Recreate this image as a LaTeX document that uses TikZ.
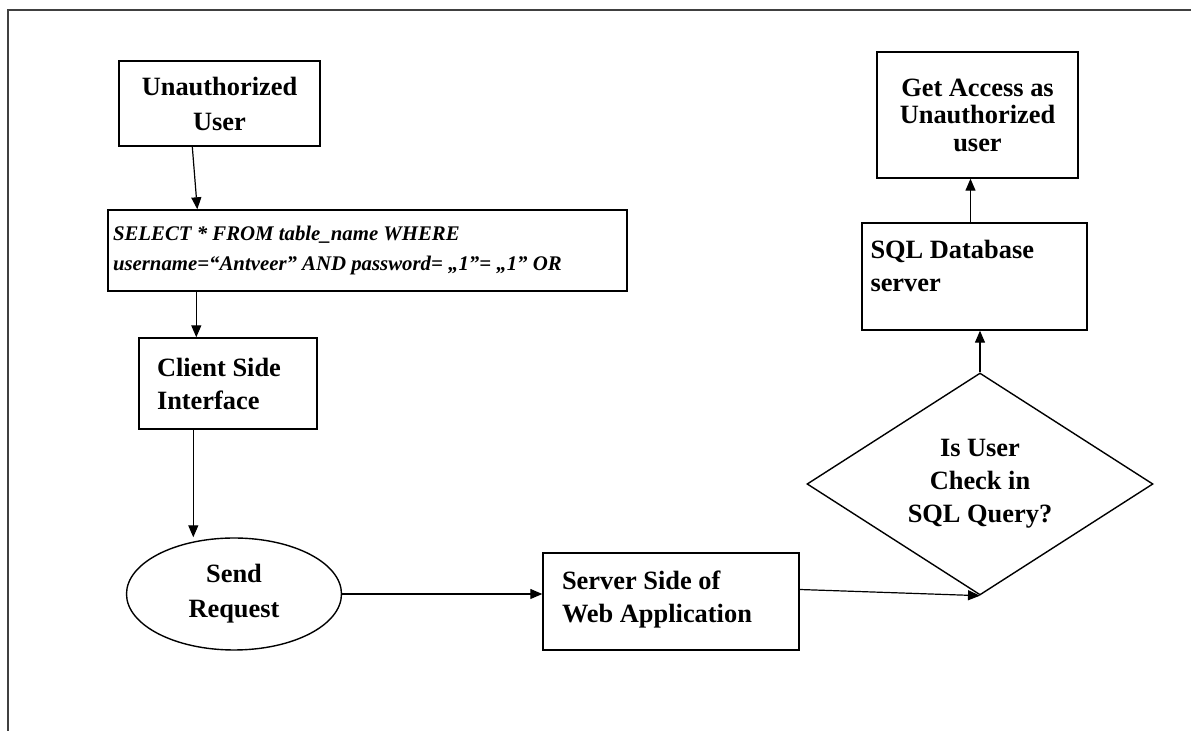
\documentclass[tikz,border=0pt]{standalone}
\usepackage{fontspec}
\setmainfont{Liberation Serif}
\usetikzlibrary{shapes.geometric,arrows.meta,calc}
\begin{document}
\begin{tikzpicture}[x=0.5pt,y=-0.5pt,
  every node/.style={font=\fontsize{13.2}{16.5}\selectfont\bfseries, line width=0.7pt, inner sep=0pt},
  box/.style={draw, rectangle},
  arr/.style={-{Triangle[length=6pt,width=5pt]}, line width=0.6pt},
  frame/.style={line width=1pt, draw=black!75}]
\useasboundingbox (0,0) rectangle (1191,731);
\draw[frame] (8,731) -- (8,10) -- (1191,10);

\node[box, minimum width=100.5pt, minimum height=42.5pt, align=center,
      font=\fontsize{13.2}{17.5}\selectfont\bfseries] (uu) at (219.5,103.5) {Unauthorized\\User};
\node[box, minimum width=259.5pt, minimum height=40.5pt, text width=254.5pt, align=flush left,
      font=\fontsize{10.4}{15}\selectfont\bfseries\itshape] (sql) at (367.5,250.5)
  {SELECT * FROM table\_name WHERE\\username=“Antveer” AND password= „1”= „1” OR};
\node[box, minimum width=89pt, minimum height=45.5pt, text width=71pt, align=flush left] (csi) at (228,383.5)
  {Client Side\\Interface};
\node[draw, ellipse, minimum width=107.5pt, minimum height=56pt, align=center,
      font=\fontsize{13.2}{17.5}\selectfont\bfseries] (sr) at (234,594) {Send\\Request};
\node[box, minimum width=128pt, minimum height=48.5pt, text width=109pt, align=flush left, text depth=21pt] (ss) at (671,601.5)
  {Server Side of\\Web Application};
\node[draw, diamond, aspect=1.56, minimum width=173pt, minimum height=111pt, align=center] (dq) at (980,484)
  {Is User\\Check in\\SQL Query?};
\node[box, minimum width=112.5pt, minimum height=53.5pt, text width=104pt, align=flush left, text depth=27pt] (db) at (974.5,276.5)
  {SQL Database\\server};
\node[box, minimum width=100.5pt, minimum height=63pt, align=center,
      font=\fontsize{13.2}{13.75}\selectfont\bfseries] (ga) at (977.5,115)
  {Get Access as\\Unauthorized\\user};

\draw[arr] ($(uu.south west)+(74,0)$) -- ($(sql.north west)+(90,0)$);
\draw[arr] ($(sql.south west)+(89,0)$) -- ($(csi.north west)+(58,0)$);
\coordinate (c1) at ($(csi.south west)+(55,0)$);
\draw[arr] (c1) -- (c1 |- sr.north);
\draw[arr] (sr.east) -- (ss.west |- sr.east);
\draw[arr] ([yshift=6pt]ss.east) -- (dq.south);
\draw[arr] (dq.north) -- (dq.north |- db.south);
\coordinate (c2) at ([xshift=-2pt]db.north);
\draw[arr] (c2) -- (c2 |- ga.south);
\end{tikzpicture}
\end{document}
